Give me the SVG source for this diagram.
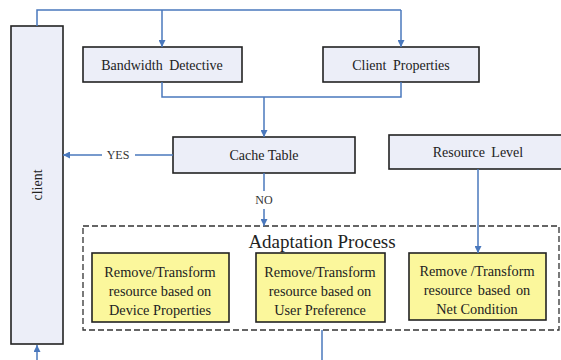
<svg xmlns="http://www.w3.org/2000/svg" width="561" height="360" viewBox="0 0 561 360">
<defs>
<style>
text{font-family:"Liberation Serif","Times New Roman",Times,"DejaVu Serif",serif}
.box{fill:#eceef8;stroke:#222;stroke-width:1.6}
.yel{fill:#fbf79c;stroke:#222;stroke-width:1.6}
.t{font-size:14px;fill:#222;text-anchor:middle}
.ty{font-size:14.3px;fill:#222;text-anchor:middle}
.lb{font-size:12px;fill:#333;text-anchor:middle}
.c{fill:none;stroke:#4a78bd;stroke-width:1.5}
</style>
<marker id="ah" viewBox="0 0 10 10" refX="10" refY="5" markerWidth="7" markerHeight="7" markerUnits="userSpaceOnUse" orient="auto">
<path d="M0,0 L10,5 L0,10 z" fill="#4a78bd"/>
</marker>
</defs>
<rect width="561" height="360" fill="#fff"/>
<g id="client">
<rect class="box" x="11" y="26" width="52" height="318"/>
<text class="t" transform="translate(42,185) rotate(-90)">client</text>
</g>
<g id="bandwidth">
<rect class="box" x="83" y="47" width="159" height="35"/>
<text class="t" x="162" y="69.5" word-spacing="3">Bandwidth Detective</text>
</g>
<g id="clientprops">
<rect class="box" x="323" y="47" width="156" height="35"/>
<text class="t" x="401" y="69.5" word-spacing="3">Client Properties</text>
</g>
<g id="cache">
<rect class="box" x="173" y="137" width="182" height="36"/>
<text class="t" x="264" y="160">Cache Table</text>
</g>
<g id="resource">
<rect class="box" x="389" y="135" width="175" height="34"/>
<text class="t" x="478" y="157" word-spacing="3">Resource Level</text>
</g>
<g id="adaptation">
<rect x="83" y="226" width="476" height="104" fill="none" stroke="#333" stroke-width="1.3" stroke-dasharray="6,3"/>
<text x="322" y="248" font-size="19" fill="#222" text-anchor="middle">Adaptation Process</text>
</g>
<g id="device">
<rect class="yel" x="92" y="253" width="137" height="69"/>
<text class="ty" x="160" y="277">Remove/Transform</text>
<text class="ty" x="160" y="296">resource based on</text>
<text class="ty" x="160" y="315">Device Properties</text>
</g>
<g id="user">
<rect class="yel" x="256" y="253" width="129" height="69"/>
<text class="ty" x="320" y="277">Remove/Transform</text>
<text class="ty" x="320" y="296">resource based on</text>
<text class="ty" x="320" y="315">User Preference</text>
</g>
<g id="net">
<rect class="yel" x="409" y="253" width="137" height="67"/>
<text class="ty" x="477" y="276">Remove /Transform</text>
<text class="ty" x="477" y="295" word-spacing="2">resource based on</text>
<text class="ty" x="477" y="314">Net Condition</text>
</g>
<g id="connectors">
<path class="c" d="M37,26 V10 H401"/>
<path class="c" d="M162,10 V47" marker-end="url(#ah)"/>
<path class="c" d="M401,10 V47" marker-end="url(#ah)"/>
<path class="c" d="M162,82 V97 H401 V82"/>
<path class="c" d="M264,97 V137" marker-end="url(#ah)"/>
<path class="c" d="M173,155 H135"/>
<path class="c" d="M102,155 H63" marker-end="url(#ah)"/>
<text class="lb" x="118" y="159">YES</text>
<path class="c" d="M264,173 V191"/>
<text class="lb" x="264" y="204">NO</text>
<path class="c" d="M264,209 V226" marker-end="url(#ah)"/>
<path class="c" d="M478,169 V253" marker-end="url(#ah)"/>
<path class="c" d="M322,330 V360"/>
<path class="c" d="M37,360 V345" marker-end="url(#ah)"/>
</g>
</svg>
